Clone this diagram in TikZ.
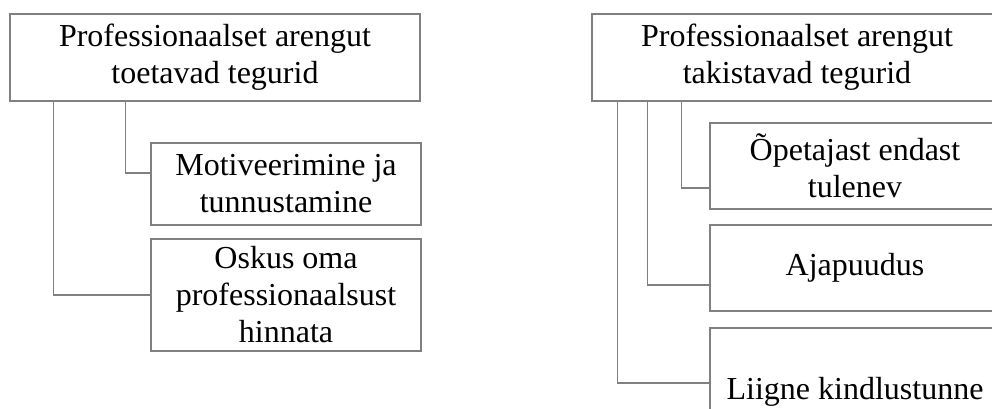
\documentclass[tikz,border=0pt]{standalone}
\usepackage{fontspec}
\setmainfont{Liberation Serif}
\definecolor{linegray}{RGB}{128,128,128}
\tikzset{
  box/.style={draw=linegray, line width=1.5pt, rectangle, inner sep=0pt, align=center,
    font=\fontsize{32}{37}\selectfont, fill=white},
  conn/.style={draw=linegray, line width=1.5pt}
}
\begin{document}
\begin{tikzpicture}[x=1pt,y=-1pt]
\useasboundingbox (0,0) rectangle (992,408);
\clip (0,0) rectangle (992,408);
% left tree
\node[box, minimum width=410pt, minimum height=87pt] (lt) at (215,57.5) {Professionaalset arengut\\toetavad tegurid};
\node[box, minimum width=270pt, minimum height=82pt] (m) at (286,184) {Motiveerimine ja\\tunnustamine};
\node[box, minimum width=270pt, minimum height=112pt] (o) at (286,295) {Oskus oma\\professionaalsust\\hinnata};
\draw[conn] ([xshift=116pt]lt.south west) |- ([yshift=11pt]m.west);
\draw[conn] ([xshift=44pt]lt.south west) |- (o.west);
% right tree
\node[box, minimum width=410pt, minimum height=87pt] (rt) at (797,57.5) {Professionaalset arengut\\takistavad tegurid};
\node[box, minimum width=290pt, minimum height=86pt] (r1) at (855,166) {Õpetajast endast\\tulenev};
\node[box, minimum width=290pt, minimum height=86pt] (r2) at (855,268) {Ajapuudus};
\node[box, minimum width=290pt, minimum height=128pt] (r3) at (855,392) {Liigne kindlustunne};
\draw[conn] ([xshift=90pt]rt.south west) |- ([yshift=-22pt]r1.west);
\draw[conn] ([xshift=56pt]rt.south west) |- ([yshift=-17pt]r2.west);
\draw[conn] ([xshift=26pt]rt.south west) |- ([yshift=9pt]r3.west);
\end{tikzpicture}
\end{document}
